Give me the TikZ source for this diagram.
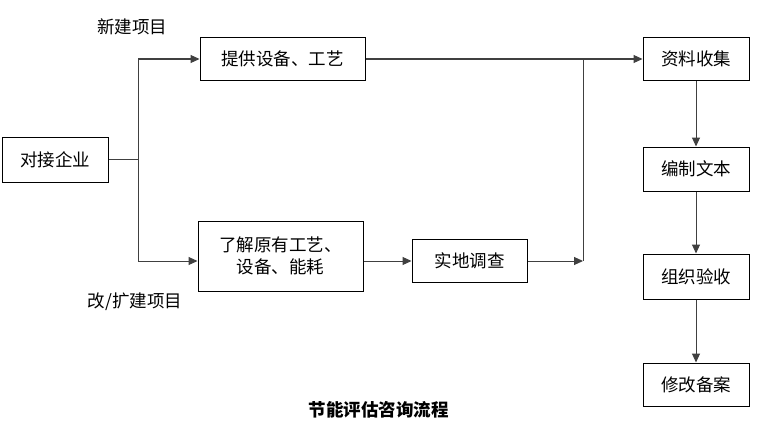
\documentclass[tikz,border=0pt]{standalone}
\usepackage{fontspec}
\newfontfamily\cjk{Noto Sans CJK SC}
\usetikzlibrary{arrows.meta}
\begin{document}
\begin{tikzpicture}[x=1pt,y=-1pt,
  box/.style={draw,line width=1pt,inner sep=0pt,font=\cjk\fontsize{17.5}{22}\selectfont},
  lbl/.style={inner sep=0pt,font=\cjk\fontsize{17.5}{22}\selectfont},
  conn/.style={line width=1pt,draw=black!75},
  arr/.style={conn,-{Triangle[length=9pt,width=8pt]}}]
\useasboundingbox[fill=white] (0,0) rectangle (762,436);
\node[box,minimum width=106pt,minimum height=45pt] (dj) at (55,159.5) {对接企业};
\node[box,minimum width=165pt,minimum height=42pt] (tg) at (282.5,59) {提供设备、工艺};
\node[box,minimum width=165pt,minimum height=70pt,align=center] (lj) at (280.5,256) {了解原有工艺、\\设备、能耗};
\node[box,minimum width=115pt,minimum height=43pt] (sd) at (469.5,261) {实地调查};
\node[box,minimum width=106pt,minimum height=43pt] (zl) at (696,59) {资料收集};
\node[box,minimum width=106pt,minimum height=44pt] (bz) at (696,169) {编制文本};
\node[box,minimum width=106pt,minimum height=45pt] (zz) at (696,276.5) {组织验收};
\node[box,minimum width=106pt,minimum height=43pt] (xg) at (696,384.5) {修改备案};
\node[lbl] (l1) at (132,27) {新建项目};
\node[lbl] (l2) at (135,302) {改/扩建项目};
\node[inner sep=0pt,font=\cjk\bfseries\fontsize{17.5}{22}\selectfont] (tt) at (378.5,410) {节能评估咨询流程};
\coordinate (br) at (138,159);
\coordinate (bt) at (138,59);
\coordinate (bb) at (138,261);
\coordinate (mt) at (583,59);
\coordinate (mb) at (583,261);
\draw[conn] (dj.east |- br) -- (br);
\draw[arr] (bb) -- (bt) -- (tg.west |- bt);
\draw[arr] (br) -- (bb) -- (lj.west |- bb);
\draw[arr] (lj.east |- sd.west) -- (sd.west);
\draw[arr] (sd.east) -- (mb);
\draw[conn] (mb) -- (mt);
\draw[arr] (tg.east) -- (zl.west);
\draw[arr] (zl.south) -- (bz.north);
\draw[arr] (bz.south) -- (zz.north);
\draw[arr] (zz.south) -- (xg.north);
\end{tikzpicture}
\end{document}
